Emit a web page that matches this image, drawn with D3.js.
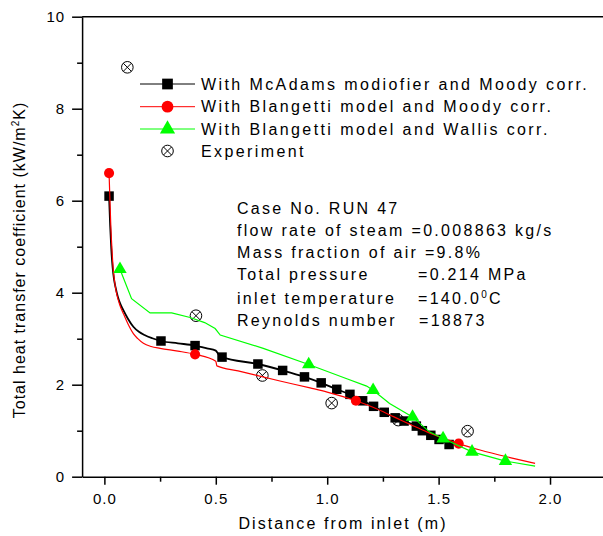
<!DOCTYPE html>
<html>
<head>
<meta charset="utf-8">
<script src="https://cdn.jsdelivr.net/npm/d3@7"></script>
<style>
  body { margin: 0; background: #fff; }
  svg { display: block; }
  text { font-family: "Liberation Sans", Arial, Helvetica, sans-serif; fill: #000; }
</style>
</head>
<body>
<svg id="chart" width="603" height="536"></svg>
<script>
// ---- Axis ticks ----
const xMajorTicks = [0, 0.5, 1.0, 1.5, 2.0];
const xMajorLabels = ["0.0", "0.5", "1.0", "1.5", "2.0"];
const xMinorTicks = [0.25, 0.75, 1.25, 1.75];
const yMajorTicks = [0, 2, 4, 6, 8, 10];
const yMajorLabels = ["0", "2", "4", "6", "8", "10"];
const yMinorTicks = [1, 3, 5, 7, 9];

// ---- McAdams modified + Moody (black squares) ----
const mcadamsLineX = [0.021, 0.026, 0.031, 0.037, 0.043, 0.050, 0.060, 0.072, 0.085, 0.105, 0.130, 0.155, 0.180, 0.215, 0.254, 0.330, 0.407, 0.460, 0.500, 0.515, 0.528, 0.689, 0.800, 0.898, 0.973, 1.043, 1.102, 1.159, 1.208, 1.256, 1.305, 1.345, 1.400, 1.427, 1.465, 1.502, 1.547];
const mcadamsLineY = [6.10, 5.45, 4.95, 4.55, 4.30, 4.12, 3.92, 3.75, 3.62, 3.44, 3.26, 3.15, 3.08, 3.01, 2.95, 2.90, 2.85, 2.79, 2.74, 2.64, 2.60, 2.45, 2.31, 2.17, 2.04, 1.90, 1.79, 1.65, 1.53, 1.40, 1.28, 1.21, 1.10, 1.00, 0.90, 0.81, 0.70];
const mcadamsMarkX = [0.021, 0.254, 0.407, 0.528, 0.689, 0.800, 0.898, 0.973, 1.043, 1.102, 1.159, 1.208, 1.256, 1.305, 1.345, 1.400, 1.427, 1.465, 1.502, 1.547];
const mcadamsMarkY = [6.10, 2.95, 2.85, 2.60, 2.45, 2.31, 2.17, 2.04, 1.90, 1.79, 1.65, 1.53, 1.40, 1.28, 1.21, 1.10, 1.00, 0.90, 0.81, 0.70];

// ---- Blangetti + Moody (red circles) ----
const blangMoodyLineX = [0.021, 0.025, 0.029, 0.034, 0.040, 0.047, 0.055, 0.068, 0.085, 0.105, 0.130, 0.150, 0.175, 0.210, 0.250, 0.330, 0.407, 0.500, 0.505, 0.600, 0.788, 0.923, 1.000, 1.129, 1.200, 1.300, 1.380, 1.450, 1.520, 1.590, 1.686, 1.835, 1.933];
const blangMoodyLineY = [6.60, 6.00, 5.43, 4.95, 4.49, 4.20, 3.98, 3.75, 3.55, 3.33, 3.11, 3.00, 2.90, 2.83, 2.79, 2.73, 2.66, 2.51, 2.41, 2.30, 2.08, 1.93, 1.84, 1.65, 1.52, 1.30, 1.12, 0.97, 0.84, 0.72, 0.58, 0.40, 0.29];
const blangMoodyMarkX = [0.021, 0.407, 1.129, 1.590];
const blangMoodyMarkY = [6.60, 2.66, 1.65, 0.72];

// ---- Blangetti + Wallis (green triangles) ----
const blangWallisLineX = [0.070, 0.122, 0.205, 0.302, 0.385, 0.450, 0.497, 0.520, 0.713, 0.917, 1.088, 1.177, 1.206, 1.280, 1.383, 1.460, 1.520, 1.650, 1.800, 1.933];
const blangWallisLineY = [4.51, 3.87, 3.56, 3.56, 3.46, 3.35, 3.22, 3.08, 2.79, 2.44, 2.13, 1.97, 1.88, 1.59, 1.30, 0.97, 0.83, 0.54, 0.34, 0.23];
const blangWallisMarkX = [0.070, 0.917, 1.206, 1.383, 1.520, 1.650, 1.800];
const blangWallisMarkY = [4.51, 2.44, 1.88, 1.30, 0.83, 0.54, 0.34];

// ---- Experiment ----
const expX = [0.103, 0.411, 0.709, 1.020, 1.319, 1.630];
const expY = [8.90, 3.50, 2.20, 1.60, 1.23, 0.99];

// ---- Legend labels ----
const legendLabels = [
  "With McAdams modiofier and Moody corr.",
  "With Blangetti model and Moody corr.",
  "With Blangetti model and Wallis corr.",
  "Experiment"
];

const svg = d3.select("#chart");
svg.append("rect").attr("width", 603).attr("height", 536).attr("fill", "#fff");

const x = d3.scaleLinear().domain([-0.1, 2.24]).range([82.1, 603.5]);
const y = d3.scaleLinear().domain([0, 10]).range([476.7, 16.7]);
const axisLeftX = x(-0.1);
const axisBottomY = y(0);

// ---- Axes ----
svg.append("g").attr("transform", `translate(0,${axisBottomY})`)
  .call(d3.axisBottom(x).tickValues(xMajorTicks).tickSize(8).tickSizeOuter(0).tickPadding(8.6)
    .tickFormat((d, i) => xMajorLabels[i]));
svg.append("g").attr("transform", `translate(0,${axisBottomY})`)
  .call(d3.axisBottom(x).tickValues(xMinorTicks).tickSize(5).tickSizeOuter(0).tickFormat(""))
  .select(".domain").remove();

svg.append("g").attr("transform", `translate(${axisLeftX},0)`)
  .call(d3.axisLeft(y).tickValues(yMajorTicks).tickSize(10).tickSizeOuter(0).tickPadding(7)
    .tickFormat((d, i) => yMajorLabels[i]));
svg.append("g").attr("transform", `translate(${axisLeftX},0)`)
  .call(d3.axisLeft(y).tickValues(yMinorTicks).tickSize(5).tickSizeOuter(0).tickFormat(""))
  .select(".domain").remove();

// top frame line
svg.append("line")
  .attr("x1", axisLeftX).attr("x2", x.range()[1])
  .attr("y1", y(10)).attr("y2", y(10))
  .attr("stroke", "#000").attr("stroke-width", 1.5);

svg.selectAll(".domain, .tick line").attr("stroke", "#000").attr("stroke-width", 1.5);
svg.selectAll(".tick text")
  .attr("font-family", "\"Liberation Sans\", Arial, sans-serif")
  .attr("font-size", 15).attr("letter-spacing", "1px").attr("fill", "#000");

// axis titles
svg.append("text")
  .attr("x", 343).attr("y", 529)
  .attr("text-anchor", "middle").attr("font-size", 16).attr("letter-spacing", "2.1px")
  .text("Distance from inlet (m)");

const yTitle = svg.append("text")
  .attr("transform", "translate(25,260) rotate(-90)")
  .attr("text-anchor", "middle").attr("font-size", 16).attr("letter-spacing", "1px");
yTitle.append("tspan").text("Total heat transfer coefficient (kW/m");
yTitle.append("tspan").attr("font-size", 10).attr("dy", -6).text("2");
yTitle.append("tspan").attr("dy", 6).text("K)");

// ---- Marks ----
const zip = (xs, ys) => xs.map((v, i) => [v, ys[i]]);

// experiment markers (circle with cross)
function expMarker(g, cx, cy, r) {
  const m = g.append("g").attr("transform", `translate(${cx},${cy})`)
    .attr("fill", "none").attr("stroke", "#000").attr("stroke-width", 1);
  m.append("circle").attr("r", r);
  const k = r * Math.SQRT1_2;
  m.append("line").attr("x1", -k).attr("y1", -k).attr("x2", k).attr("y2", k);
  m.append("line").attr("x1", -k).attr("y1", k).attr("x2", k).attr("y2", -k);
}
const gExp = svg.append("g");
zip(expX, expY).forEach(([a, b]) => expMarker(gExp, x(a), y(b), 5.8));

const smooth = d3.line().x(d => x(d[0])).y(d => y(d[1])).curve(d3.curveMonotoneX);
const straight = d3.line().x(d => x(d[0])).y(d => y(d[1])).curve(d3.curveLinear);

// black series
svg.append("path").attr("d", smooth(zip(mcadamsLineX, mcadamsLineY)))
  .attr("fill", "none").attr("stroke", "#000").attr("stroke-width", 1.8);
svg.append("g").selectAll("path").data(zip(mcadamsMarkX, mcadamsMarkY)).join("path")
  .attr("transform", d => `translate(${x(d[0])},${y(d[1])})`)
  .attr("d", d3.symbol(d3.symbolSquare, 90)).attr("fill", "#000");

// red series
svg.append("path").attr("d", smooth(zip(blangMoodyLineX, blangMoodyLineY)))
  .attr("fill", "none").attr("stroke", "#ff0000").attr("stroke-width", 1.2);
svg.append("g").selectAll("path").data(zip(blangMoodyMarkX, blangMoodyMarkY)).join("path")
  .attr("transform", d => `translate(${x(d[0])},${y(d[1])})`)
  .attr("d", d3.symbol(d3.symbolCircle, 80)).attr("fill", "#ff0000");

// green series
svg.append("path").attr("d", straight(zip(blangWallisLineX, blangWallisLineY)))
  .attr("fill", "none").attr("stroke", "#00ff00").attr("stroke-width", 1.2);
svg.append("g").selectAll("path").data(zip(blangWallisMarkX, blangWallisMarkY)).join("path")
  .attr("transform", d => `translate(${x(d[0])},${y(d[1])})`)
  .attr("d", d3.symbol(d3.symbolTriangle, 78)).attr("fill", "#00ff00");

// ---- Legend ----
const legendRows = [84, 106.7, 129, 151];
const legendColors = ["#000", "#ff0000", "#00ff00", null];
const legendSymbols = [[d3.symbolSquare, 115], [d3.symbolCircle, 110], [d3.symbolTriangle, 100], null];
const lg = svg.append("g");
legendLabels.forEach((label, i) => {
  const ry = legendRows[i];
  if (legendColors[i]) {
    lg.append("line").attr("x1", 140).attr("x2", 195).attr("y1", ry).attr("y2", ry)
      .attr("stroke", legendColors[i]).attr("stroke-width", 1);
    lg.append("path").attr("transform", `translate(167.5,${ry})`)
      .attr("d", d3.symbol(legendSymbols[i][0], legendSymbols[i][1])).attr("fill", legendColors[i]);
  } else {
    expMarker(lg, 167.5, ry, 5.8);
  }
  lg.append("text").attr("x", 201).attr("y", ry + 5.5)
    .attr("font-size", 16).attr("letter-spacing", "2.4px").text(label);
});

// ---- Run conditions ----
const note = svg.append("g").attr("font-size", 16);
function noteLine(yb, left, right, rx) {
  const t = note.append("text").attr("y", yb).attr("letter-spacing", "2.3px");
  t.append("tspan").attr("x", 237).text(left);
  if (right) t.append("tspan").attr("x", rx).text(right);
  return t;
}
noteLine(214, "Case No. RUN 47");
noteLine(236, "flow rate of steam", "=0.008863 kg/s", 411.5);
noteLine(258, "Mass fraction of air =9.8%");
noteLine(280, "Total pressure", "=0.214 MPa", 418);
const tl = noteLine(304, "inlet temperature", "=140.0", 418);
tl.append("tspan").attr("font-size", 10).attr("dy", -6).text("0");
tl.append("tspan").attr("dy", 6).text("C");
noteLine(326, "Reynolds number", "=18873", 419);
</script>
</body>
</html>
